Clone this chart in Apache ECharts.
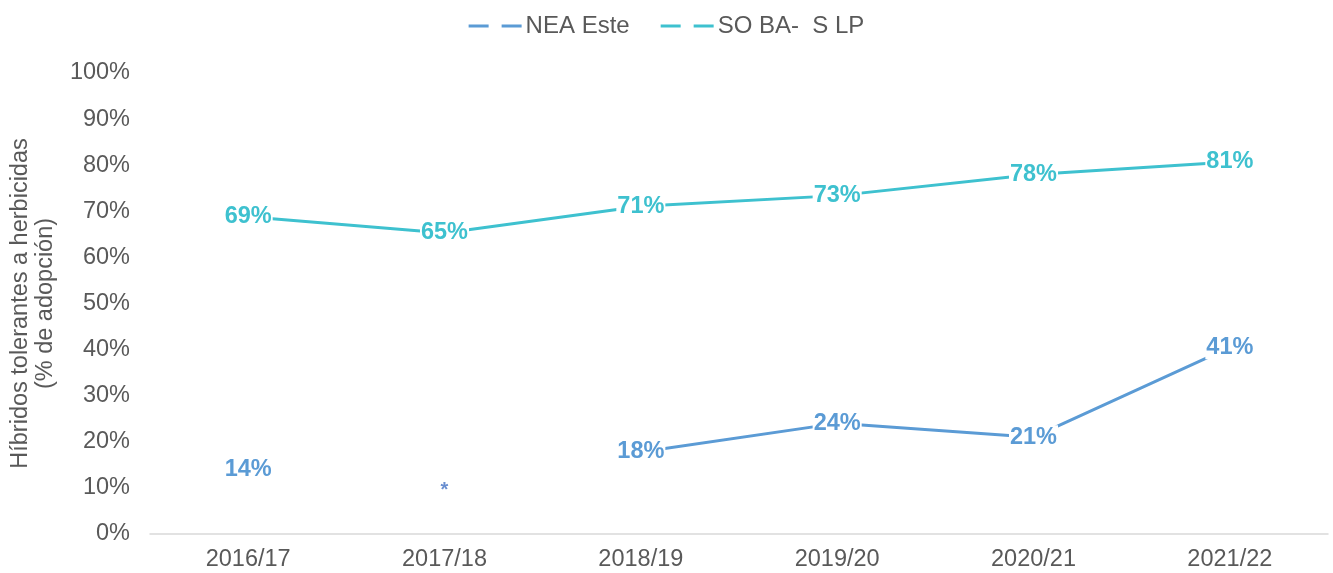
<!DOCTYPE html>
<html>
<head>
<meta charset="utf-8">
<script src="https://cdn.jsdelivr.net/npm/echarts@6/dist/echarts.min.js"></script>
<style>
  html, body { margin: 0; padding: 0; background: #fff; }
  #chart { width: 1333px; height: 573px; }
</style>
</head>
<body>
<div id="chart"></div>
<script>
  // campañas
  var categories = ['2016/17', '2017/18', '2018/19', '2019/20', '2020/21', '2021/22'];
  // % de adopción
  var neaEste = [14, null, 17.8, 24, 21, 40.5];
  var soBaSLp = [68.8, 65.3, 71.1, 73.4, 78, 80.7];
  // sin dato para NEA Este en 2017/18
  var sinDato = [null, 9.5, null, null, null, null];
  var yTicks = [0, 10, 20, 30, 40, 50, 60, 70, 80, 90, 100];

  var colNea = '#5B9BD5';
  var colSo = '#3EC1CF';
  var txt = '#595959';
  var font = '"Liberation Sans", Arial, sans-serif';
  var legendIcon = 'path://M0,0h20v3h-20z M33,0h20v3h-20z';

  function pctLabel(color) {
    return {
      show: true,
      position: 'inside',
      formatter: function (p) { return Math.round(p.value) + '%'; },
      color: color,
      fontSize: 23.5,
      fontWeight: 'bold',
      fontFamily: font,
      backgroundColor: '#fff',
      padding: [0, 1]
    };
  }

  var chart = echarts.init(document.getElementById('chart'));
  var option = {
    animation: false,
    textStyle: { fontFamily: font },
    legend: {
      top: 9,
      left: 'center',
      data: [
        { name: 'NEA Este', icon: legendIcon },
        { name: 'SO BA-  S LP', icon: legendIcon }
      ],
      itemWidth: 53,
      itemHeight: 3,
      itemGap: 31,
      textStyle: { color: txt, fontSize: 24, fontFamily: font, padding: [0, 0, 0, -1] }
    },
    grid: {
      left: 150,
      right: 5,
      top: 73,
      bottom: 39,
      outerBoundsMode: 'none'
    },
    xAxis: {
      type: 'category',
      data: categories,
      axisLine: { lineStyle: { color: '#D9D9D9', width: 1.5 } },
      axisTick: { show: false },
      axisLabel: { color: txt, fontSize: 23.5, margin: 14, fontFamily: font }
    },
    yAxis: {
      type: 'value',
      min: 0,
      max: 100,
      interval: 10,
      name: 'Híbridos tolerantes a herbicidas\n(% de adopción)',
      nameLocation: 'middle',
      nameGap: 92,
      nameTextStyle: { color: txt, fontSize: 23.5, lineHeight: 25, fontFamily: font },
      splitLine: { show: false },
      axisLine: { show: false },
      axisTick: { show: false },
      axisLabel: {
        color: txt, fontSize: 23.5, margin: 20, fontFamily: font,
        formatter: function (v) { return yTicks.indexOf(v) >= 0 ? v + '%' : ''; }
      }
    },
    series: [
      {
        name: 'NEA Este',
        type: 'line',
        data: neaEste,
        color: colNea,
        lineStyle: { width: 3, color: colNea },
        showSymbol: true,
        symbol: 'circle',
        symbolSize: 2,
        itemStyle: { color: colNea },
        label: pctLabel(colNea),
        z: 3
      },
      {
        name: 'SO BA-  S LP',
        type: 'line',
        data: soBaSLp,
        color: colSo,
        lineStyle: { width: 3, color: colSo },
        showSymbol: true,
        symbol: 'circle',
        symbolSize: 2,
        itemStyle: { color: colSo },
        label: pctLabel(colSo),
        z: 3
      },
      {
        name: 'sin dato',
        type: 'scatter',
        data: sinDato,
        symbolSize: 0,
        label: {
          show: true,
          position: 'inside',
          formatter: '*',
          color: '#4472C4',
          fontSize: 20,
          fontWeight: 'bold',
          fontFamily: font
        }
      }
    ]
  };
  chart.setOption(option);
  window.addEventListener('resize', function () {
    chart.resize();
  });
</script>
</body>
</html>
